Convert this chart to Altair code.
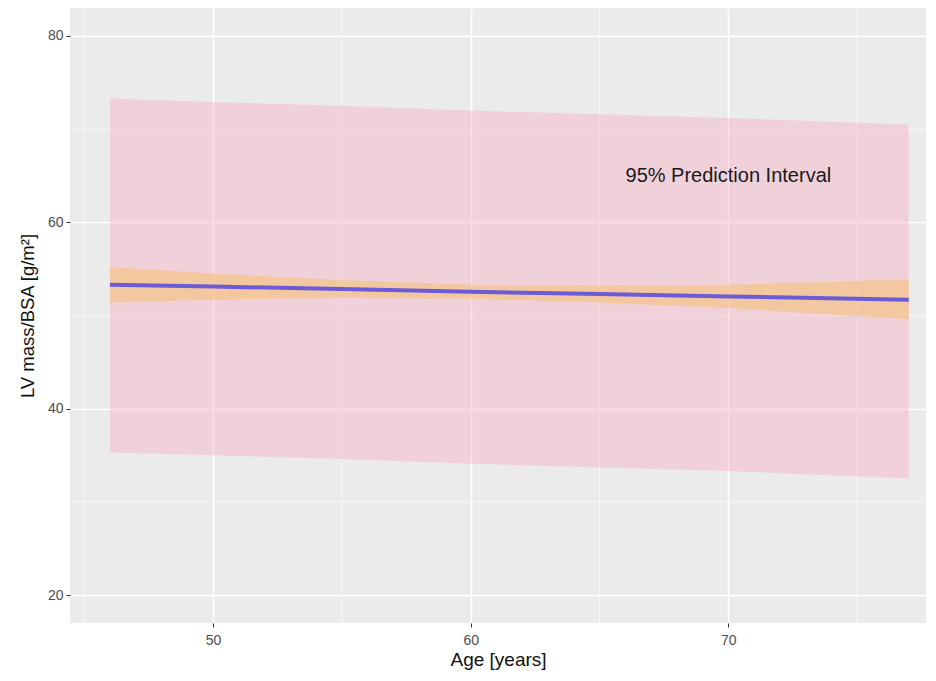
import altair as alt
import pandas as pd

age = [46, 50, 55, 60, 65, 70, 77]
fit = [53.3, 53.1, 52.85, 52.55, 52.3, 52.05, 51.7]
ci_lo = [51.4, 51.7, 51.9, 51.8, 51.4, 50.8, 49.6]
ci_hi = [55.2, 54.5, 53.8, 53.3, 53.2, 53.3, 53.9]
pi_lo = [35.3, 35.0, 34.6, 34.1, 33.7, 33.3, 32.5]
pi_hi = [73.3, 72.9, 72.5, 72.0, 71.6, 71.2, 70.5]

x_major = [50, 60, 70]
y_major = [20, 40, 60, 80]
x_minor = [45, 55, 65, 75]
y_minor = [30, 50, 70]

label_text = ["95% Prediction Interval"]
label_x = [70]
label_y = [65]

df = pd.DataFrame({"age": age, "fit": fit, "ci_lo": ci_lo, "ci_hi": ci_hi,
                   "pi_lo": pi_lo, "pi_hi": pi_hi})
xmin_df = pd.DataFrame({"v": x_minor})
ymin_df = pd.DataFrame({"v": y_minor})
lab_df = pd.DataFrame({"t": label_text, "x": label_x, "y": label_y})

XD = [44.45, 77.67]
YD = [17, 83]

xs = alt.Scale(domain=XD, nice=False, zero=False)
ys = alt.Scale(domain=YD, nice=False, zero=False)

xaxis = alt.Axis(values=x_major, title="Age [years]", grid=True, gridColor="white",
                 gridWidth=1.6, domain=False, tickColor="#333333", tickSize=4,
                 labelColor="#4D4D4D", labelFontSize=14, labelPadding=6,
                 titleFontSize=19, titleFontWeight="normal", titleColor="#111111",
                 titlePadding=3, labelFont="Liberation Sans", titleFont="Liberation Sans")
yaxis = alt.Axis(values=y_major, title="LV mass/BSA [g/m²]", grid=True, gridColor="white",
                 gridWidth=1.6, domain=False, tickColor="#333333", tickSize=4,
                 labelColor="#4D4D4D", labelFontSize=14, labelPadding=3,
                 titleFontSize=18.5, titleFontWeight="normal", titleColor="#111111",
                 titlePadding=10, labelFont="Liberation Sans", titleFont="Liberation Sans")

vminor = alt.Chart(xmin_df).mark_rule(color="white", strokeWidth=0.8, opacity=0.8).encode(
    x=alt.X("v:Q", scale=xs, axis=xaxis))
hminor = alt.Chart(ymin_df).mark_rule(color="white", strokeWidth=0.8, opacity=0.8).encode(
    y=alt.Y("v:Q", scale=ys, axis=yaxis))

pi = alt.Chart(df).mark_area(color="#F8A0B8", opacity=0.35).encode(
    x=alt.X("age:Q", scale=xs),
    y=alt.Y("pi_lo:Q", scale=ys),
    y2="pi_hi:Q")
ci = alt.Chart(df).mark_area(color="#F5C27A", opacity=0.6).encode(
    x=alt.X("age:Q", scale=xs),
    y=alt.Y("ci_lo:Q", scale=ys),
    y2="ci_hi:Q")
line = alt.Chart(df).mark_line(color="#6C5BD6", strokeWidth=4).encode(
    x=alt.X("age:Q", scale=xs),
    y=alt.Y("fit:Q", scale=ys))
text = alt.Chart(lab_df).mark_text(fontSize=20, color="#1A1A1A", font="Liberation Sans").encode(
    x=alt.X("x:Q", scale=xs), y=alt.Y("y:Q", scale=ys), text="t:N")

chart = alt.layer(vminor, hminor, pi, ci, line, text).properties(
    width=856, height=615,
    autosize=alt.AutoSizeParams(type="none"),
    padding={"left": 62, "top": 0, "right": 0, "bottom": 50},
).configure_view(fill="#EBEBEB", stroke=None)

chart.save("out.html", embed_options={"renderer": "svg", "actions": False})
